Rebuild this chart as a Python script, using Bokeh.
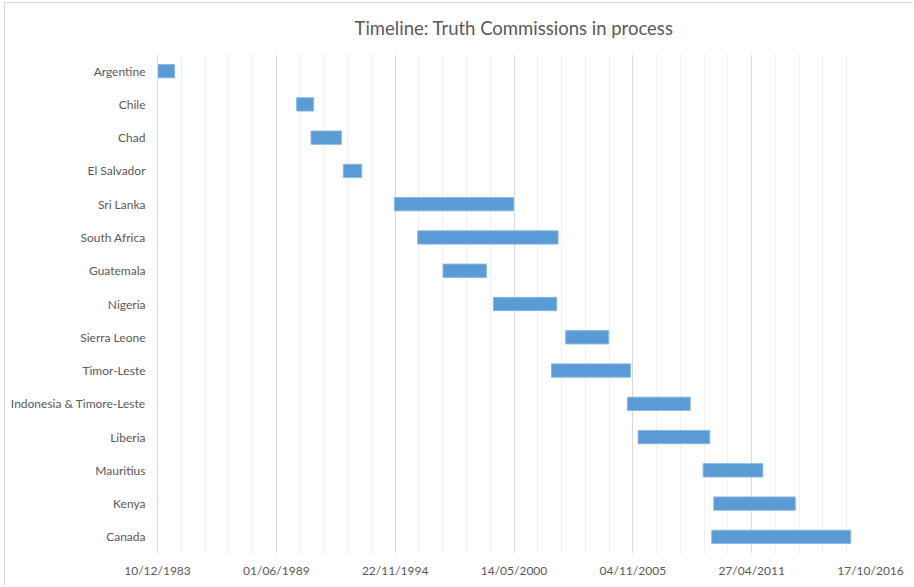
from datetime import datetime

from bokeh.embed import file_html
from bokeh.models import (DatetimeTickFormatter, FactorRange, FixedTicker,
                          Range1d)
from bokeh.plotting import figure
from bokeh.resources import INLINE

# Truth commissions and the period each one was in process
commissions = [
    "Argentine", "Chile", "Chad", "El Salvador", "Sri Lanka", "South Africa",
    "Guatemala", "Nigeria", "Sierra Leone", "Timor-Leste",
    "Indonesia & Timore-Leste", "Liberia", "Mauritius", "Kenya", "Canada",
]
start_dates = [
    "1983-12-16", "1990-05-09", "1991-01-06", "1992-07-03", "1994-11-09",
    "1995-12-06", "1997-02-05", "1999-06-02", "2002-10-01", "2002-02-03",
    "2005-08-05", "2006-02-01", "2009-01-30", "2009-07-28", "2009-06-24",
]
end_dates = [
    "1984-09-23", "1991-02-19", "1992-05-30", "1993-05-08", "2000-05-09",
    "2002-05-26", "1999-02-04", "2002-05-03", "2004-09-24", "2005-09-25",
    "2008-06-26", "2009-05-22", "2011-11-01", "2013-04-30", "2015-11-19",
]
tick_dates = [
    "1983-12-10", "1989-06-01", "1994-11-22", "2000-05-14",
    "2005-11-04", "2011-04-27", "2016-10-17",
]

TEXT = "#595959"
FONT = "Lato"


def to_dt(s):
    return datetime.strptime(s, "%Y-%m-%d")


def to_ms(d):
    return (d - datetime(1970, 1, 1)).total_seconds() * 1000.0


starts = [to_dt(s) for s in start_dates]
ends = [to_dt(s) for s in end_dates]
ticks = [to_dt(s) for s in tick_dates]

# five minor gridline steps between each pair of date ticks
minor = []
for a, b in zip(ticks[:-1], ticks[1:]):
    step = (b - a) / 5
    minor += [a + step * k for k in range(1, 5)]

p = figure(
    width=909, height=584,
    x_axis_type="datetime",
    y_range=FactorRange(factors=list(reversed(commissions))),
    x_range=Range1d(start=ticks[0], end=ticks[-1]),
    output_backend="svg", toolbar_location=None,
    min_border_left=152, min_border_right=44,
    min_border_top=20, min_border_bottom=34,
    title="Timeline: Truth Commissions in process",
)
p.styles = {
    "margin-left": "4px", "margin-top": "2px",
    "border-top": "1px solid #d9d9d9", "border-left": "1px solid #d9d9d9",
}

p.hbar(y=commissions, left=starts, right=ends, height=0.4,
       fill_color="#5b9bd5", line_color="#8ab8e3", line_width=1)

p.outline_line_color = None
p.background_fill_color = "white"
p.border_fill_color = "white"

p.title.align = "center"
p.title.vertical_align = "top"
p.title.text_font = FONT
p.title.text_font_size = "18.5px"
p.title.text_font_style = "normal"
p.title.text_color = TEXT
p.title.offset = 0
p.title.standoff = 27

xa = p.xaxis[0]
xa.ticker = FixedTicker(ticks=[to_ms(t) for t in ticks],
                        minor_ticks=[to_ms(t) for t in minor])
fmt = "%d/%m/%Y"
xa.formatter = DatetimeTickFormatter(
    milliseconds=fmt, seconds=fmt, minsec=fmt, minutes=fmt, hourmin=fmt,
    hours=fmt, days=fmt, months=fmt, years=fmt)
xa.axis_line_color = None
xa.major_tick_line_color = None
xa.minor_tick_line_color = None
xa.major_label_text_font = FONT
xa.major_label_text_font_size = "12px"
xa.major_label_text_color = TEXT
xa.major_label_standoff = 3

ya = p.yaxis[0]
ya.axis_line_color = "#d9d9d9"
ya.major_tick_line_color = None
ya.minor_tick_line_color = None
ya.major_label_text_font = FONT
ya.major_label_text_font_size = "12px"
ya.major_label_text_color = TEXT
ya.major_label_standoff = 6

p.xgrid.grid_line_color = "#d9d9d9"
p.xgrid.minor_grid_line_color = "#f0f0f0"
p.ygrid.grid_line_color = None

open("out.html", "w").write(file_html(p, INLINE))
